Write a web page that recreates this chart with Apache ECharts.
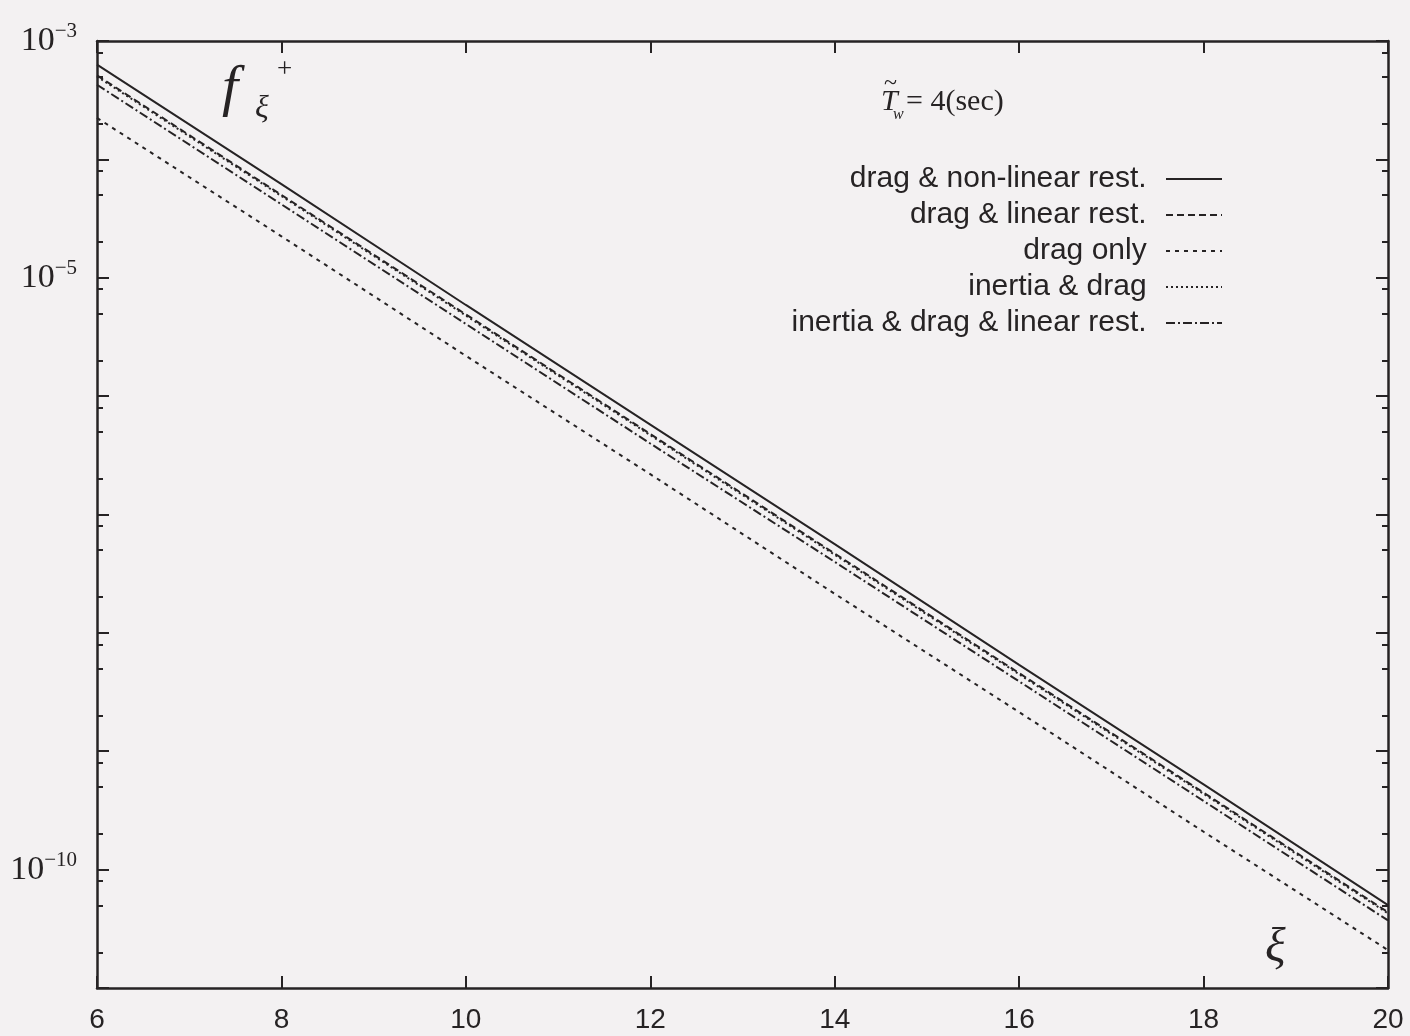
<!DOCTYPE html>
<html>
<head>
<meta charset="utf-8">
<script src="https://cdn.jsdelivr.net/npm/echarts@6/dist/echarts.min.js"></script>
<style>
  html, body { margin: 0; padding: 0; background: #f3f1f2; }
  #chart { width: 1410px; height: 1036px; }
</style>
</head>
<body>
<div id="chart"></div>
<script>
// ---- data ----
const XS = [6, 8, 10, 12, 14, 16, 18, 20];
const DRAG_NONLINEAR = [6.31e-4, 6.17e-5, 5.89e-6, 5.75e-7, 5.62e-8, 5.37e-9, 5.25e-10, 5.01e-11];
const DRAG_LINEAR    = [5.13e-4, 5.01e-5, 4.90e-6, 4.79e-7, 4.68e-8, 4.57e-9, 4.47e-10, 4.37e-11];
const DRAG_ONLY      = [2.24e-4, 2.24e-5, 2.19e-6, 2.19e-7, 2.14e-8, 2.14e-9, 2.09e-10, 2.09e-11];
const INERTIA_DRAG   = [5.01e-4, 4.90e-5, 4.79e-6, 4.68e-7, 4.57e-8, 4.47e-9, 4.37e-10, 4.27e-11];
const INERTIA_DRAG_LINEAR = [4.27e-4, 4.17e-5, 4.07e-6, 3.98e-7, 3.98e-8, 3.89e-9, 3.80e-10, 3.72e-11];
const SERIES_NAMES = ['drag & non-linear rest.', 'drag & linear rest.', 'drag only', 'inertia & drag', 'inertia & drag & linear rest.'];
const X_LABELS = [6, 8, 10, 12, 14, 16, 18, 20];
const Y_LABELED_EXP = [-3, -5, -10];
const Y_MIN_EXP = -11, Y_MAX_EXP = -3;
const MINOR_MULT = [2, 5, 8];

// ---- helpers ----
const INK = '#262324';
const minorTickVals = [];
for (let e = Y_MIN_EXP; e < Y_MAX_EXP; e++) {
  MINOR_MULT.forEach(m => minorTickVals.push(e + Math.log10(m)));
}
const pairs = arr => XS.map((x, i) => [x, arr[i]]);
const yLabelFmt = v => {
  const e = Math.round(Math.log10(v));
  return Y_LABELED_EXP.indexOf(e) >= 0 ? '{b|10}{s|\u2212' + Math.abs(e) + '}' : '';
};

const chart = echarts.init(document.getElementById('chart'), null, { renderer: 'canvas' });
const axisLineStyle = { show: true, onZero: false, lineStyle: { color: INK, width: 2.5 } };
const tickStyle = { color: INK, width: 2 };

const lineSeries = (name, arr, type) => ({
  name, type: 'line', data: pairs(arr), symbol: 'none', showSymbol: false,
  xAxisIndex: 0, yAxisIndex: 0,
  lineStyle: { color: INK, width: 2, type: type },
  itemStyle: { color: INK },
  emphasis: { disabled: true }
});

chart.setOption({
  animation: false,
  backgroundColor: '#f3f1f2',
  grid: { left: 97, right: 22, top: 41, bottom: 48, containLabel: false },
  xAxis: [
    {
      type: 'value', position: 'bottom', min: 6, max: 20, interval: 2,
      axisLine: axisLineStyle,
      axisTick: { show: true, inside: true, length: 12, lineStyle: tickStyle },
      axisLabel: { show: true, margin: 18, fontSize: 28, fontFamily: 'Liberation Sans', color: INK,
        customValues: X_LABELS },
      splitLine: { show: false }
    },
    {
      type: 'value', position: 'top', min: 6, max: 20, interval: 2,
      axisLine: axisLineStyle,
      axisTick: { show: true, inside: true, length: 12, lineStyle: tickStyle },
      axisLabel: { show: false },
      splitLine: { show: false }
    }
  ],
  yAxis: [
    {
      type: 'log', logBase: 10, position: 'left', min: Math.pow(10, Y_MIN_EXP), max: Math.pow(10, Y_MAX_EXP),
      splitNumber: 8,
      axisLine: axisLineStyle,
      axisTick: { show: true, inside: true, length: 12, lineStyle: tickStyle },
      axisLabel: {
        show: true, margin: 20, formatter: yLabelFmt, color: INK,
        rich: {
          b: { fontSize: 34, fontFamily: 'Liberation Serif', color: INK, lineHeight: 40 },
          s: { fontSize: 21, fontFamily: 'Liberation Serif', color: INK, lineHeight: 22, verticalAlign: 'top' }
        }
      },
      splitLine: { show: false }
    },
    {
      type: 'value', position: 'left', min: Y_MIN_EXP, max: Y_MAX_EXP,
      axisLine: { show: false, onZero: false },
      axisTick: { show: true, inside: true, length: 6, lineStyle: tickStyle, customValues: minorTickVals },
      axisLabel: { show: false },
      splitLine: { show: false }
    },
    {
      type: 'log', logBase: 10, position: 'right', min: Math.pow(10, Y_MIN_EXP), max: Math.pow(10, Y_MAX_EXP),
      splitNumber: 8,
      axisLine: axisLineStyle,
      axisTick: { show: true, inside: true, length: 12, lineStyle: tickStyle },
      axisLabel: { show: false },
      splitLine: { show: false }
    },
    {
      type: 'value', position: 'right', min: Y_MIN_EXP, max: Y_MAX_EXP,
      axisLine: { show: false, onZero: false },
      axisTick: { show: true, inside: true, length: 6, lineStyle: tickStyle, customValues: minorTickVals },
      axisLabel: { show: false },
      splitLine: { show: false }
    }
  ],
  legend: {
    orient: 'vertical', align: 'right', right: 182, top: 159,
    itemWidth: 56, itemHeight: 14, itemGap: 6,
    data: SERIES_NAMES,
    formatter: n => n + ' \u2009',
    textStyle: { fontSize: 30, lineHeight: 30, fontFamily: 'Liberation Sans', color: INK },
    itemStyle: { color: 'rgba(0,0,0,0)', borderWidth: 0, opacity: 0 },
    selectedMode: false
  },
  series: [
    lineSeries(SERIES_NAMES[0], DRAG_NONLINEAR, 'solid'),
    lineSeries(SERIES_NAMES[1], DRAG_LINEAR, [7, 4]),
    lineSeries(SERIES_NAMES[2], DRAG_ONLY, [4, 5]),
    lineSeries(SERIES_NAMES[3], INERTIA_DRAG, [2, 3]),
    lineSeries(SERIES_NAMES[4], INERTIA_DRAG_LINEAR, [9, 3, 2, 3])
  ],
  graphic: [
    { type: 'text', x: 222, y: 90, style: { text: 'f', font: 'italic 58px "Liberation Serif"', fill: INK, verticalAlign: 'middle' } },
    { type: 'text', x: 255, y: 109, style: { text: '\u03BE', font: 'italic 32px "Liberation Serif"', fill: INK, verticalAlign: 'middle' } },
    { type: 'text', x: 277, y: 70, style: { text: '+', font: '27px "Liberation Serif"', fill: INK, verticalAlign: 'middle' } },
    { type: 'text', x: 1265, y: 948, style: { text: '\u03BE', font: 'italic 48px "Liberation Serif"', fill: INK, verticalAlign: 'middle' } },
    { type: 'text', x: 884, y: 84, style: { text: '~', font: '24px "Liberation Serif"', fill: INK, verticalAlign: 'middle' } },
    { type: 'text', x: 881, y: 102, style: { text: 'T', font: 'italic 30px "Liberation Serif"', fill: INK, verticalAlign: 'middle' } },
    { type: 'text', x: 893, y: 115, style: { text: 'w', font: 'italic 16px "Liberation Serif"', fill: INK, verticalAlign: 'middle' } },
    { type: 'text', x: 906, y: 102, style: { text: '= 4(sec)', font: '30px "Liberation Serif"', fill: INK, verticalAlign: 'middle' } }
  ]
});
</script>
</body>
</html>
